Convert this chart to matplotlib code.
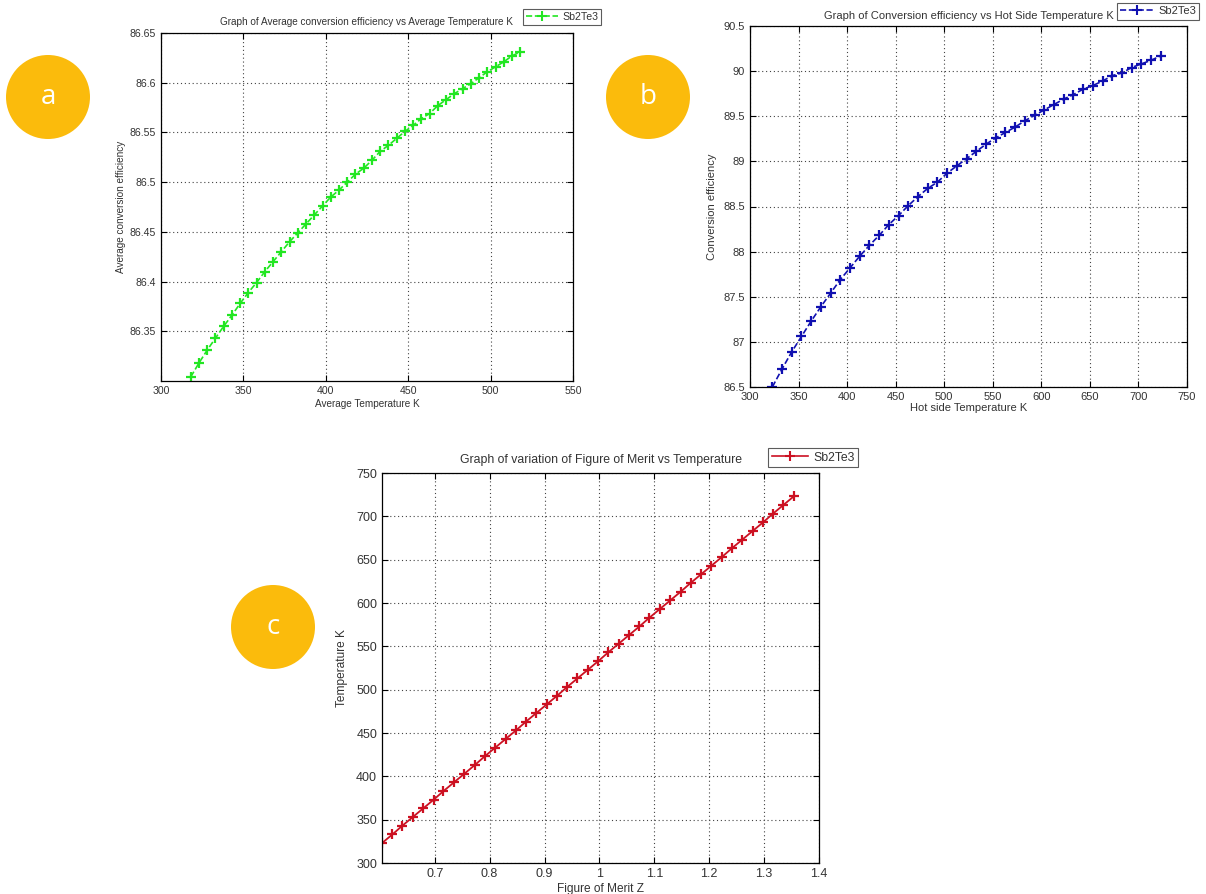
import matplotlib.pyplot as plt
from matplotlib.patches import Circle
from matplotlib.ticker import FuncFormatter
from matplotlib.lines import Line2D

plt.rcParams['font.family'] = ['Liberation Sans', 'DejaVu Sans']

# (a) average temperature (K) vs average conversion efficiency
avg_temp = [318, 323, 328, 333, 338, 343, 348, 353, 358, 363, 368, 373, 378, 383,
            388, 393, 398, 403, 408, 413, 418, 423, 428, 433, 438, 443, 448, 453,
            458, 463, 468, 473, 478, 483, 488, 493, 498, 503, 508, 513, 518]
avg_eff = [86.304, 86.318, 86.331, 86.343, 86.355, 86.366, 86.378, 86.389, 86.399,
           86.410, 86.420, 86.430, 86.440, 86.449, 86.458, 86.467, 86.476, 86.485,
           86.492, 86.500, 86.508, 86.514, 86.522, 86.531, 86.537, 86.544, 86.551,
           86.557, 86.564, 86.569, 86.577, 86.583, 86.589, 86.594, 86.599, 86.605,
           86.611, 86.616, 86.621, 86.627, 86.631]

# (b) hot side temperature (K) vs conversion efficiency
hot_temp = [323, 333, 343, 353, 363, 373, 383, 393, 403, 413, 423, 433, 443, 453,
            463, 473, 483, 493, 503, 513, 523, 533, 543, 553, 563, 573, 583, 593,
            603, 613, 623, 633, 643, 653, 663, 673, 683, 693, 703, 713, 723]
hot_eff = [86.50, 86.70, 86.89, 87.06, 87.23, 87.39, 87.54, 87.69, 87.82, 87.95,
           88.07, 88.18, 88.30, 88.40, 88.51, 88.61, 88.70, 88.77, 88.87, 88.95,
           89.03, 89.11, 89.19, 89.26, 89.32, 89.38, 89.45, 89.51, 89.57, 89.63,
           89.69, 89.74, 89.80, 89.84, 89.89, 89.95, 89.98, 90.04, 90.08, 90.12,
           90.17]

# (c) figure of merit Z vs temperature (K)
merit_z = [0.604, 0.623, 0.641, 0.660, 0.679, 0.698, 0.716, 0.735, 0.754, 0.773,
           0.791, 0.810, 0.829, 0.848, 0.866, 0.885, 0.904, 0.923, 0.941, 0.960,
           0.979, 0.998, 1.016, 1.035, 1.054, 1.073, 1.091, 1.110, 1.129, 1.148,
           1.166, 1.185, 1.204, 1.223, 1.241, 1.260, 1.279, 1.298, 1.316, 1.335,
           1.354]
merit_temp = hot_temp

W, H = 1206, 894
fig = plt.figure(figsize=(W / 100, H / 100), dpi=100)
TXT = '#333333'


def px_axes(left, top, right, bottom):
    return fig.add_axes([left / W, 1 - bottom / H, (right - left) / W, (bottom - top) / H])


def matlab_style(ax, fs):
    ax.grid(True, linestyle=(0, (1, 2.5)), color='#444444', linewidth=0.8)
    ax.tick_params(direction='in', top=True, right=True, labelsize=fs,
                   labelcolor=TXT, length=4, width=0.8)
    for s in ax.spines.values():
        s.set_linewidth(0.9)
    ax.xaxis.set_major_formatter(FuncFormatter(lambda v, p: f'{v:g}'))
    ax.yaxis.set_major_formatter(FuncFormatter(lambda v, p: f'{v:g}'))


def add_legend(color, ls, left, top, fs):
    h = Line2D([], [], color=color, linestyle=ls, marker='+', markersize=7,
               markeredgewidth=1.5, linewidth=1.2)
    leg = fig.legend([h], ['Sb2Te3'], loc='upper left',
                     bbox_to_anchor=(left / W, 1 - top / H), fontsize=fs,
                     fancybox=False, frameon=True, edgecolor='#333333',
                     handlelength=3.0, borderpad=0.3, handletextpad=0.4,
                     borderaxespad=0)
    leg.get_frame().set_linewidth(0.8)
    for t in leg.get_texts():
        t.set_color(TXT)


# panel a
ax_a = px_axes(161, 33, 573, 381)
ax_a.plot(avg_temp, avg_eff, color='#22e622', linestyle='--', marker='+',
          markersize=6.5, markeredgewidth=1.6, linewidth=1.2)
ax_a.set_xlim(300, 550)
ax_a.set_ylim(86.3, 86.65)
ax_a.set_yticks([86.35, 86.4, 86.45, 86.5, 86.55, 86.6, 86.65])
matlab_style(ax_a, 7.6)
ax_a.set_title('Graph of Average conversion efficiency vs Average Temperature K',
               fontsize=7.2, color=TXT, pad=6)
ax_a.set_xlabel('Average Temperature K', fontsize=7.2, color=TXT, labelpad=2)
ax_a.set_ylabel('Average conversion efficiency', fontsize=7.2, color=TXT, labelpad=3)
add_legend('#22e622', '--', 523, 9, 7.6)

# panel b
ax_b = px_axes(750, 26, 1187, 387)
ax_b.plot(hot_temp, hot_eff, color='#1010b0', linestyle='--', marker='+',
          markersize=6.5, markeredgewidth=1.6, linewidth=1.2)
ax_b.set_xlim(300, 750)
ax_b.set_ylim(86.5, 90.5)
matlab_style(ax_b, 8)
ax_b.set_title('Graph of Conversion efficiency vs Hot Side Temperature K',
               fontsize=8, color=TXT, pad=5)
ax_b.set_xlabel('Hot side Temperature K', fontsize=8, color=TXT, labelpad=1)
ax_b.set_ylabel('Conversion efficiency', fontsize=8, color=TXT, labelpad=5)
add_legend('#1010b0', '--', 1117, 3, 8)

# panel c
ax_c = px_axes(382, 473, 819, 863)
ax_c.plot(merit_z, merit_temp, color='#cc1122', linestyle='-', marker='+',
          markersize=6.5, markeredgewidth=1.6, linewidth=1.3)
ax_c.set_xlim(0.604, 1.4)
ax_c.set_ylim(300, 750)
ax_c.set_xticks([0.7, 0.8, 0.9, 1.0, 1.1, 1.2, 1.3, 1.4])
matlab_style(ax_c, 9)
ax_c.set_title('Graph of variation of Figure of Merit vs Temperature',
               fontsize=8.8, color=TXT, pad=7)
ax_c.set_xlabel('Figure of Merit Z', fontsize=8.6, color=TXT, labelpad=2)
ax_c.set_ylabel('Temperature K', fontsize=8.6, color=TXT, labelpad=6)
add_legend('#cc1122', '-', 768, 448, 8.8)

# orange panel badges
ov = fig.add_axes([0, 0, 1, 1], zorder=-1)
ov.set_xlim(0, W)
ov.set_ylim(H, 0)
ov.axis('off')
for cx, cy, letter in [(48, 97, 'a'), (648, 97, 'b'), (273, 627, 'c')]:
    ov.add_patch(Circle((cx, cy), 42, color='#fbbb0c', linewidth=0))
    ov.text(cx, cy, letter, color='white', fontsize=20, ha='center', va='center',
            family=['Open Sans', 'DejaVu Sans'])

fig.savefig('out.png', dpi=100)
